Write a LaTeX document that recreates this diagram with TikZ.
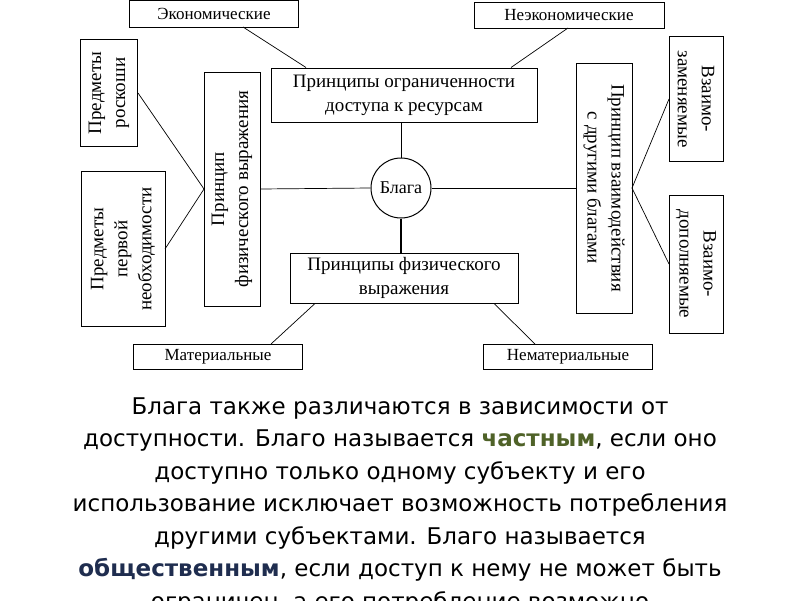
\documentclass[tikz,border=0pt]{standalone}
\usepackage{fontspec}
\setmainfont{Liberation Serif}
\newfontfamily\parafont{DejaVu Sans}
\definecolor{privgreen}{HTML}{4F6228}
\definecolor{pubblue}{HTML}{1F2D4F}
\begin{document}
\begin{tikzpicture}[x=1pt,y=-1pt,
  box/.style={draw,line width=1pt,inner sep=1pt,align=center,font=\fontsize{17}{18}\selectfont},
  bigbox/.style={box,font=\fontsize{19}{24}\selectfont},
  link/.style={line width=0.7pt}]
\useasboundingbox[fill=white](0,0) rectangle (800,600);
\clip(0,0) rectangle (800,600);
% upper level
\node[box,minimum width=169,minimum height=27] (econ) at (214,14) {Экономические};
\node[box,minimum width=190,minimum height=26] (nonecon) at (569,15) {Неэкономические};
\node[bigbox,minimum width=266,minimum height=54] (limit) at (404,95) {Принципы ограниченности\\доступа к ресурсам};
\node[draw,circle,line width=1pt,minimum size=60,inner sep=0pt,font=\fontsize{18}{18}\selectfont] (goods) at (401,188) {Блага};
\node[bigbox,minimum width=228,minimum height=50] (phys) at (404,278) {Принципы физического\\выражения};
% side boxes
\node[bigbox,rotate=90,minimum width=234,minimum height=56] (physv) at (232,189) {Принцип\\физического выражения};
\node[bigbox,rotate=-90,minimum width=250,minimum height=56] (inter) at (604,188) {Принцип взаимодействия\\с другими благами};
\node[bigbox,rotate=90,minimum width=107,minimum height=57] (lux) at (109,93) {Предметы\\роскоши};
\node[bigbox,rotate=90,minimum width=155,minimum height=84] (need) at (123,249) {Предметы\\первой\\необходимости};
\node[bigbox,rotate=-90,minimum width=125,minimum height=54] (subst) at (696,99) {Взаимо-\\заменяемые};
\node[bigbox,rotate=-90,minimum width=138,minimum height=54] (compl) at (696,264) {Взаимо-\\дополняемые};
\node[box,minimum width=169,minimum height=25] (mat) at (218,357) {Материальные};
\node[box,minimum width=169,minimum height=25] (nonmat) at (568,357) {Нематериальные};
% connectors
\coordinate (econend) at (243,27);
\coordinate (nonecend) at (568,28);
\draw[link] (econend) -- (limit.north west -| 306,0);
\draw[link] (nonecend) -- (limit.north west -| 511,0);
\draw[link] (lux.south -| 138,95) -- (physv.north -| 204,140);
\draw[link] (need.south -| 165,242) -- (physv.north -| 204,213);
\draw[link] (physv.south -| 260,189) -- (goods.west);
\draw[link] (goods.east) -- (inter.south -| 576,188);
\draw[link] (goods.north) -- (goods.north |- limit.south);
\draw[link,line width=1.2pt] (goods.south) -- (goods.south |- phys.north);
\draw[link] (inter.north -| 632,138) -- (subst.south -| 669,90);
\draw[link] (inter.north -| 632,232) -- (compl.south -| 669,263);
\draw[link] (phys.south -| 315,0) -- (mat.north -| 271,0);
\draw[link] (phys.south -| 494,0) -- (nonmat.north -| 535,0);
% text below
\node[font=\parafont\fontsize{23}{32.5}\selectfont,align=center,anchor=north] (para) at (400,394)
{Блага также различаются в зависимости от\\
доступности. Благо называется \textbf{\color{privgreen}частным}, если оно\\
доступно только одному субъекту и его\\
использование исключает возможность потребления\\
другими субъектами. Благо называется\\
\textbf{\color{pubblue}общественным}, если доступ к нему не может быть\\
ограничен, а его потребление возможно};
\end{tikzpicture}
\end{document}
